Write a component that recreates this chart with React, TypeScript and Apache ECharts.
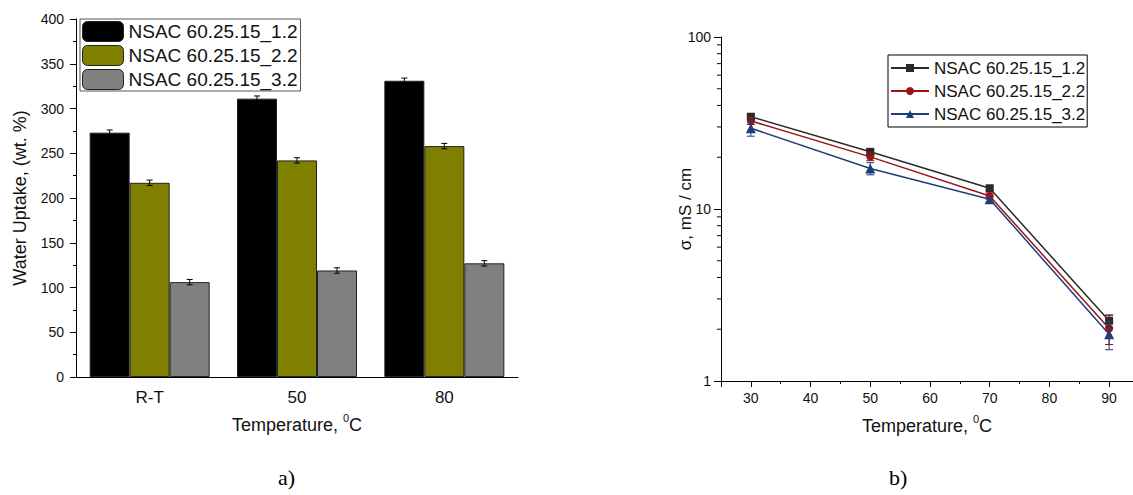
import React, { useEffect, useRef } from 'react';
import * as echarts from 'echarts';

// ---- Data: panel a) water uptake ----
const categories = ['R-T', '50', '80'];
const seriesNames = ['NSAC 60.25.15_1.2', 'NSAC 60.25.15_2.2', 'NSAC 60.25.15_3.2'];
const uptake1 = [273, 311, 331];
const uptake2 = [217, 242, 258];
const uptake3 = [106, 119, 127];
const uptakeErr1 = [3, 3, 3];
const uptakeErr2 = [3, 3, 3];
const uptakeErr3 = [3, 3, 3];
const uptakeTicks = [0, 50, 100, 150, 200, 250, 300, 350, 400];

// ---- Data: panel b) conductivity ----
const temps = [30, 50, 70, 90];
const sigma1 = [34.4, 21.5, 13.2, 2.24];
const sigma2 = [32.5, 20.1, 11.9, 2.02];
const sigma3 = [29.5, 17.2, 11.4, 1.87];
const sigmaErr1 = [1.2, 0.8, 0.4, 0.18];
const sigmaErr2 = [1.5, 1.0, 0.5, 0.39];
const sigmaErr3 = [3.0, 1.4, 0.4, 0.35];
const logMinorTicks = [2, 3, 4, 5, 6, 7, 8, 9, 20, 30, 40, 50, 60, 70, 80, 90];

const FONT = 'Liberation Sans, Arial, sans-serif';
const BAR_W = 40;
const X_MIN = 25;
const X_MAX = 94;

const barColors = ['#000000', '#808000', '#808080'];
const lineColors = ['#2a2a2a', '#9a1616', '#1d3e7a'];
const lineSymbols = ['rect', 'circle', 'triangle'];

const titleRich = {
  t: { fontSize: 18, fontFamily: FONT, color: '#111', lineHeight: 22, verticalAlign: 'bottom' },
  s: { fontSize: 11, fontFamily: FONT, color: '#111', lineHeight: 11, verticalAlign: 'top' },
};

function errorBarSeries(data: number[][], offset: number, color: string, cap: number) {
  return {
    type: 'custom',
    z: 5,
    silent: true,
    data,
    encode: { x: 0, y: 1 },
    renderItem: (_p: any, api: any) => {
      const x = api.value(0);
      const v = api.value(1);
      const e = api.value(2);
      const top = api.coord([x, v + e]);
      const bot = api.coord([x, v - e]);
      const cx = top[0] + offset;
      const style = { stroke: color, lineWidth: 1 };
      return {
        type: 'group',
        children: [
          { type: 'line', shape: { x1: cx, y1: top[1], x2: cx, y2: bot[1] }, style },
          { type: 'line', shape: { x1: cx - cap, y1: top[1], x2: cx + cap, y2: top[1] }, style },
          { type: 'line', shape: { x1: cx - cap, y1: bot[1], x2: cx + cap, y2: bot[1] }, style },
        ],
      };
    },
  };
}

function buildLeft() {
  const vals = [uptake1, uptake2, uptake3];
  const errs = [uptakeErr1, uptakeErr2, uptakeErr3];
  const bars = vals.map((v, i) => ({
    name: seriesNames[i],
    type: 'bar',
    barWidth: BAR_W,
    barGap: '0%',
    data: v,
    itemStyle: { color: barColors[i], borderColor: '#222', borderWidth: 1 },
  }));
  const errorBars = vals.map((v, i) =>
    errorBarSeries(v.map((val, k) => [k, val, errs[i][k]]), (i - 1) * BAR_W, '#000', 3)
  );
  return {
    animation: false,
    textStyle: { fontFamily: FONT },
    grid: { left: 76, top: 19, width: 442, height: 358 },
    legend: {
      left: 80,
      top: 19,
      orient: 'vertical',
      data: seriesNames,
      itemWidth: 41,
      itemHeight: 20,
      itemGap: 3,
      padding: [2, 3, 1, 2],
      borderColor: '#555',
      borderWidth: 1,
      backgroundColor: '#fff',
      textStyle: { fontSize: 19, fontFamily: FONT, color: '#111', padding: [0, 0, 0, 0] },
      itemStyle: { borderColor: '#222', borderWidth: 1 },
    },
    xAxis: {
      type: 'category',
      data: categories,
      name: '{t|Temperature, }{s|0}{t|C}',
      nameLocation: 'middle',
      nameGap: 35,
      nameMoveOverlap: false,
      nameTextStyle: { rich: titleRich },
      axisLine: { lineStyle: { color: '#000', width: 1 } },
      axisTick: { length: 5, lineStyle: { color: '#000' } },
      axisLabel: { fontSize: 17, color: '#111', margin: 12, fontFamily: FONT },
    },
    yAxis: {
      type: 'value',
      min: 0,
      max: uptakeTicks[uptakeTicks.length - 1],
      interval: 50,
      name: 'Water Uptake, (wt. %)',
      nameLocation: 'middle',
      nameGap: 47,
      nameMoveOverlap: false,
      nameTextStyle: { fontSize: 18, fontFamily: FONT, color: '#111' },
      axisLine: { show: true, lineStyle: { color: '#000', width: 1 } },
      axisTick: { show: true, length: 6, lineStyle: { color: '#000' } },
      minorTick: { show: true, splitNumber: 2, length: 3, lineStyle: { color: '#000' } },
      splitLine: { show: false },
      axisLabel: { fontSize: 14, color: '#111', margin: 12, fontFamily: FONT },
    },
    graphic: [
      {
        type: 'text',
        left: 278,
        top: 466,
        style: { text: 'a)', fontSize: 22, fontFamily: 'Liberation Serif, Times New Roman, serif', fill: '#000' },
      },
    ],
    series: [...bars, ...errorBars],
  };
}

function buildRight() {
  const vals = [sigma1, sigma2, sigma3];
  const errs = [sigmaErr1, sigmaErr2, sigmaErr3];
  const lines = vals.map((v, i) => ({
    name: seriesNames[i],
    type: 'line',
    data: v.map((val, k) => [temps[k], val]),
    symbol: lineSymbols[i],
    symbolSize: i === 2 ? 10 : 8,
    z: 4,
    lineStyle: { color: lineColors[i], width: 1.5 },
    itemStyle: { color: lineColors[i] },
  }));
  const errorBars = vals.map((v, i) =>
    errorBarSeries(v.map((val, k) => [temps[k], val, errs[i][k]]), 0, lineColors[i], 4)
  );
  const minorTicks = {
    type: 'custom',
    silent: true,
    z: 1,
    data: logMinorTicks.map((t) => [X_MIN, t]),
    encode: { x: 0, y: 1 },
    renderItem: (_p: any, api: any) => {
      const p = api.coord([api.value(0), api.value(1)]);
      return {
        type: 'line',
        shape: { x1: p[0] - 4, y1: p[1], x2: p[0], y2: p[1] },
        style: { stroke: '#000', lineWidth: 1 },
      };
    },
  };
  return {
    animation: false,
    textStyle: { fontFamily: FONT },
    grid: { left: 161, top: 37, width: 412, height: 344 },
    legend: {
      left: 328,
      top: 55,
      orient: 'vertical',
      data: seriesNames,
      itemWidth: 38,
      itemHeight: 10,
      itemGap: 3,
      padding: [3, 2, 3, 2],
      borderColor: '#000',
      borderWidth: 1,
      backgroundColor: '#fff',
      textStyle: { fontSize: 17, fontFamily: FONT, color: '#111', lineHeight: 20 },
    },
    xAxis: {
      type: 'value',
      min: X_MIN,
      max: X_MAX,
      splitNumber: 7,
      name: '{t|Temperature, }{s|0}{t|C}',
      nameLocation: 'middle',
      nameGap: 32,
      nameMoveOverlap: false,
      nameTextStyle: { rich: titleRich },
      axisLine: { onZero: false, lineStyle: { color: '#000', width: 1 } },
      axisTick: { length: 6, lineStyle: { color: '#000' } },
      minorTick: { show: true, splitNumber: 2, length: 3, lineStyle: { color: '#000' } },
      splitLine: { show: false },
      axisLabel: { fontSize: 14, color: '#111', margin: 10, showMinLabel: false, showMaxLabel: false, fontFamily: FONT },
    },
    yAxis: {
      type: 'log',
      logBase: 10,
      min: 1,
      max: 100,
      name: 'σ, mS / cm',
      nameLocation: 'middle',
      nameGap: 27,
      nameMoveOverlap: false,
      nameTextStyle: { fontSize: 17, fontFamily: FONT, color: '#111' },
      axisLine: { show: true, lineStyle: { color: '#000', width: 1 } },
      axisTick: { show: true, length: 7, lineStyle: { color: '#000' } },
      splitLine: { show: false },
      axisLabel: { fontSize: 14, color: '#111', margin: 10, fontFamily: FONT },
    },
    graphic: [
      {
        type: 'text',
        left: 329,
        top: 466,
        style: { text: 'b)', fontSize: 22, fontFamily: 'Liberation Serif, Times New Roman, serif', fill: '#000' },
      },
    ],
    series: [minorTicks, ...lines, ...errorBars],
  };
}

export default function App() {
  const leftRef = useRef<HTMLDivElement>(null);
  const rightRef = useRef<HTMLDivElement>(null);

  useEffect(() => {
    document.body.style.margin = '0';
    const left = echarts.init(leftRef.current!, undefined, { renderer: 'svg' });
    const right = echarts.init(rightRef.current!, undefined, { renderer: 'svg' });
    left.setOption(buildLeft() as any);
    right.setOption(buildRight() as any);
    return () => {
      left.dispose();
      right.dispose();
    };
  }, []);

  return (
    <div style={{ display: 'flex', width: 1133, height: 495, background: '#fff' }}>
      <div ref={leftRef} style={{ width: 560, height: 495 }} />
      <div ref={rightRef} style={{ width: 573, height: 495 }} />
    </div>
  );
}
